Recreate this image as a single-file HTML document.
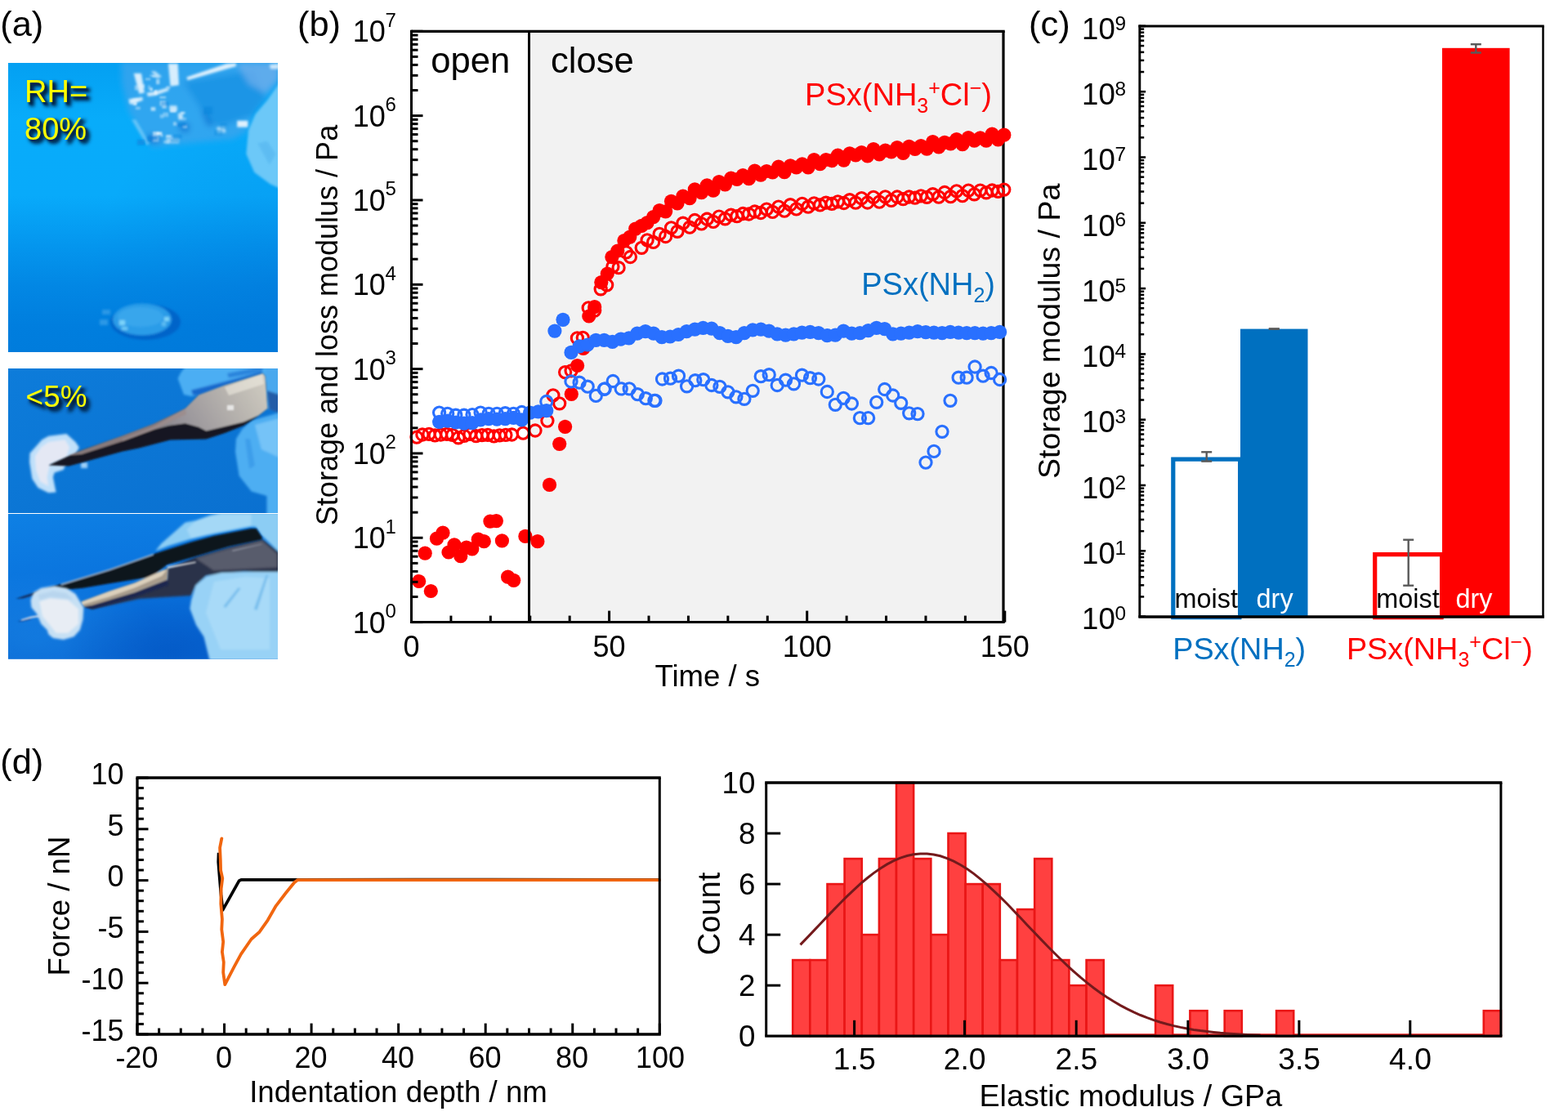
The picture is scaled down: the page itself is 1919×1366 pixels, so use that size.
<!DOCTYPE html>
<html lang="en"><head><meta charset="utf-8"><title>Figure</title>
<style>
html,body{margin:0;padding:0;background:#fff;}
body{width:1919px;height:1366px;overflow:hidden;font-family:'Liberation Sans', sans-serif;}
svg{display:block;}
svg text{font-family:'Liberation Sans', sans-serif;}
</style></head><body>
<svg width="1919" height="1366" viewBox="0 0 1919 1366">
<rect width="1919" height="1366" fill="#fff"/>
<g id="photos">
<text x="0.2" y="44.0" font-size="43.4" fill="#000" text-anchor="start" >(a)</text>
<defs>
<linearGradient id="p1bg" x1="0" y1="0" x2="0" y2="1">
<stop offset="0" stop-color="#04A0F2"/><stop offset="0.2" stop-color="#08ACFA"/><stop offset="0.46" stop-color="#08AAFA"/><stop offset="0.63" stop-color="#0496EE"/><stop offset="0.77" stop-color="#0287E4"/><stop offset="0.91" stop-color="#007EDE"/><stop offset="1" stop-color="#007CDC"/>
</linearGradient>
<radialGradient id="p1dk" cx="1" cy="0.8" r="0.7">
<stop offset="0" stop-color="#006CD2" stop-opacity="0.28"/><stop offset="1" stop-color="#006CD2" stop-opacity="0"/>
</radialGradient>
<linearGradient id="p2bg" x1="0" y1="0" x2="1" y2="1">
<stop offset="0" stop-color="#0D7CDA"/><stop offset="1" stop-color="#0A70D0"/>
</linearGradient>
<linearGradient id="p3bg" x1="0" y1="0" x2="0.25" y2="1">
<stop offset="0" stop-color="#0E80E4"/><stop offset="0.5" stop-color="#0A74DE"/><stop offset="1" stop-color="#0664D2"/>
</linearGradient>
<radialGradient id="p3lt" cx="0.1" cy="0.85" r="0.45">
<stop offset="0" stop-color="#1C88E6" stop-opacity="0.5"/><stop offset="1" stop-color="#2A94EA" stop-opacity="0"/>
</radialGradient>
<radialGradient id="p3dk" cx="0.6" cy="0.95" r="0.4">
<stop offset="0" stop-color="#0458C4" stop-opacity="0.7"/><stop offset="1" stop-color="#0458C4" stop-opacity="0"/>
</radialGradient>
<linearGradient id="metal2" x1="0" y1="0.6" x2="1" y2="0.3">
<stop offset="0" stop-color="#787478"/><stop offset="0.35" stop-color="#98949A"/><stop offset="0.7" stop-color="#B4B0AC"/><stop offset="1" stop-color="#CCC8BE"/>
</linearGradient>
<radialGradient id="blob2" cx="0.45" cy="0.45" r="0.6">
<stop offset="0" stop-color="#EEF3FA"/><stop offset="0.7" stop-color="#D8E6F6"/><stop offset="1" stop-color="#A8CDF0"/>
</radialGradient>
<filter id="bl1" x="-20%" y="-20%" width="140%" height="140%"><feGaussianBlur stdDeviation="4"/></filter>
<filter id="f08" x="-10%" y="-10%" width="120%" height="120%"><feGaussianBlur stdDeviation="0.8"/></filter>
<filter id="f15" x="-10%" y="-10%" width="120%" height="120%"><feGaussianBlur stdDeviation="1.5"/></filter>
<filter id="blS" x="-30%" y="-30%" width="160%" height="160%"><feGaussianBlur stdDeviation="9"/></filter>
<filter id="blA" x="-30%" y="-30%" width="160%" height="160%"><feGaussianBlur stdDeviation="14"/></filter>
<filter id="blB" x="-30%" y="-30%" width="160%" height="160%"><feGaussianBlur stdDeviation="30"/></filter>
<filter id="bl2" x="-20%" y="-20%" width="140%" height="140%"><feGaussianBlur stdDeviation="8"/></filter>
<filter id="bl4" x="-30%" y="-30%" width="160%" height="160%"><feGaussianBlur stdDeviation="14"/></filter>
<filter id="bld" x="-20%" y="-20%" width="140%" height="140%"><feGaussianBlur stdDeviation="1.5"/></filter>
<filter id="tsh" x="-20%" y="-20%" width="150%" height="150%"><feGaussianBlur stdDeviation="2.2"/></filter>
<filter id="tsh2" x="-20%" y="-20%" width="150%" height="150%"><feGaussianBlur stdDeviation="0.9"/></filter>
<clipPath id="c1"><rect x="10" y="77" width="330" height="354"/></clipPath>
<clipPath id="c2"><rect x="10" y="451" width="330" height="177"/></clipPath>
<clipPath id="c3"><rect x="10" y="629.1" width="330" height="177.7"/></clipPath>
</defs>
<g clip-path="url(#c1)">
<rect x="10.00" y="77.00" width="330.00" height="354.00" fill="url(#p1bg)" stroke="none" stroke-width="0" />
<rect x="10.00" y="77.00" width="330.00" height="354.00" fill="url(#p1dk)" stroke="none" stroke-width="0" />
<g transform="translate(140,70) scale(0.13175)">
<g filter="url(#blB)">
<path d="M60,40 L1530,40 L1530,230 L1290,530 L1230,690 L1100,760 L800,790 L520,820 L350,840 L250,700 L130,500 L70,250 Z" fill="#3CA4EC" opacity="0.75"/>
<path d="M640,230 L1300,120 L1400,380 L1280,540 L1000,640 L900,620 L800,480 Z" fill="#1692E4" opacity="0.8"/>
<path d="M1130,50 L1530,50 L1530,200 L1400,330 L1250,250 Z" fill="#6AAEEC" opacity="0.8"/>
<path d="M300,720 L420,720 L430,800 L310,800 Z M600,600 L700,620 L690,700 L610,690 Z M800,480 L860,520 L920,640 L860,640 Z" fill="#0C78D4" opacity="0.8"/>
</g>
<g filter="url(#blA)" fill="#EAF6FE">
<path d="M670,185 L1040,60 L1130,55 L1130,85 L1040,110 L680,215 Z" opacity="0.95"/>
<path d="M500,60 L590,60 L600,260 L520,270 Z" opacity="0.9"/>
<path d="M180,150 L250,150 L280,330 L230,340 Z" opacity="0.9"/>
<path d="M130,390 L260,370 L265,400 L150,440 Z" opacity="0.9"/>
<path d="M300,330 L370,320 L500,280 L505,310 L380,355 L310,365 Z" opacity="0.85"/>
<path d="M340,130 L380,130 L440,180 L400,200 Z" opacity="0.7"/>
<path d="M510,450 L580,450 L585,500 L515,500 Z M590,520 L630,520 L640,580 L595,580 Z" opacity="0.8"/>
<path d="M1140,590 L1240,590 L1240,650 L1140,650 Z" opacity="0.95"/>
<path d="M950,650 L1030,640 L1035,700 L955,705 Z" opacity="0.6"/>
<path d="M480,750 L600,750 L600,800 L480,800 Z" opacity="0.55"/>
<path d="M1440,70 L1530,60 L1530,110 L1450,110 Z" opacity="0.8"/>
<path d="M160,580 L200,580 L330,800 L300,820 Z" opacity="0.35"/>
</g>
<g filter="url(#blS)"><rect x="288" y="194" width="47" height="20" fill="#BDE2FA" opacity="0.59"/><rect x="423" y="718" width="30" height="21" fill="#CFEAFC" opacity="0.54"/><rect x="167" y="383" width="53" height="22" fill="#EAF6FE" opacity="0.45"/><rect x="420" y="364" width="59" height="19" fill="#BDE2FA" opacity="0.74"/><rect x="338" y="463" width="44" height="36" fill="#EAF6FE" opacity="0.66"/><rect x="422" y="531" width="36" height="36" fill="#EAF6FE" opacity="0.38"/><rect x="442" y="433" width="42" height="43" fill="#F6FBFF" opacity="0.56"/><rect x="308" y="261" width="29" height="43" fill="#BDE2FA" opacity="0.39"/><rect x="393" y="694" width="50" height="27" fill="#EAF6FE" opacity="0.79"/><rect x="386" y="204" width="35" height="48" fill="#EAF6FE" opacity="0.54"/><rect x="518" y="485" width="55" height="28" fill="#F6FBFF" opacity="0.66"/><rect x="422" y="405" width="54" height="48" fill="#EAF6FE" opacity="0.56"/><rect x="457" y="775" width="53" height="27" fill="#BDE2FA" opacity="0.52"/><rect x="132" y="409" width="28" height="22" fill="#BDE2FA" opacity="0.38"/><rect x="187" y="261" width="37" height="46" fill="#F6FBFF" opacity="0.39"/><rect x="329" y="282" width="27" height="32" fill="#F6FBFF" opacity="0.60"/><rect x="633" y="561" width="36" height="25" fill="#CFEAFC" opacity="0.39"/><rect x="241" y="251" width="40" height="37" fill="#EAF6FE" opacity="0.47"/><rect x="196" y="459" width="45" height="28" fill="#EAF6FE" opacity="0.41"/><rect x="357" y="691" width="58" height="40" fill="#F6FBFF" opacity="0.60"/><rect x="327" y="161" width="46" height="20" fill="#CFEAFC" opacity="0.38"/><rect x="349" y="166" width="45" height="21" fill="#EAF6FE" opacity="0.61"/><rect x="613" y="513" width="25" height="25" fill="#BDE2FA" opacity="0.52"/><rect x="617" y="506" width="40" height="22" fill="#F6FBFF" opacity="0.57"/><rect x="370" y="305" width="27" height="42" fill="#F6FBFF" opacity="0.68"/><rect x="551" y="201" width="23" height="48" fill="#CFEAFC" opacity="0.59"/><rect x="479" y="721" width="51" height="28" fill="#EAF6FE" opacity="0.64"/><rect x="482" y="270" width="36" height="23" fill="#BDE2FA" opacity="0.70"/><rect x="451" y="513" width="52" height="42" fill="#CFEAFC" opacity="0.44"/><rect x="546" y="601" width="31" height="35" fill="#EAF6FE" opacity="0.51"/><rect x="635" y="635" width="40" height="24" fill="#BDE2FA" opacity="0.62"/><rect x="353" y="737" width="60" height="49" fill="#CFEAFC" opacity="0.51"/><rect x="173" y="414" width="35" height="33" fill="#EAF6FE" opacity="0.79"/><rect x="584" y="613" width="80" height="33" fill="#0C80DA" opacity="0.50"/><rect x="928" y="676" width="78" height="49" fill="#0C80DA" opacity="0.35"/><rect x="831" y="460" width="80" height="69" fill="#0C80DA" opacity="0.42"/><rect x="521" y="754" width="76" height="37" fill="#0C80DA" opacity="0.34"/><rect x="321" y="734" width="80" height="36" fill="#0C80DA" opacity="0.55"/><rect x="984" y="615" width="58" height="52" fill="#0C80DA" opacity="0.34"/><rect x="211" y="766" width="72" height="51" fill="#0C80DA" opacity="0.58"/><rect x="547" y="718" width="81" height="38" fill="#0C80DA" opacity="0.38"/><rect x="434" y="415" width="69" height="40" fill="#0C80DA" opacity="0.43"/><rect x="305" y="737" width="58" height="48" fill="#0C80DA" opacity="0.48"/></g>
<path d="M1540,230 L1420,400 L1310,530 L1245,680 L1225,900 L1300,1070 L1450,1180 L1540,1220 Z" fill="#6CC8F8" filter="url(#blA)"/>
<path d="M1330,800 L1420,780 L1500,900 L1440,1000 Z" fill="#58B8F0" filter="url(#blA)" opacity="0.7"/>
</g>
<g filter="url(#bld)">
<ellipse cx="178" cy="394" rx="43" ry="22" fill="#0058C0" opacity="0.7"/>
<ellipse cx="174" cy="391" rx="36" ry="19.5" fill="#2A9CE8"/>
<ellipse cx="172" cy="388" rx="28" ry="12" fill="#38A6EC"/>
<rect x="125" y="379" width="10" height="6" fill="#2A98E6"/><rect x="122" y="391" width="10" height="7" fill="#2A98E6"/>
<rect x="146" y="392" width="7" height="6" fill="#7CD4FA"/><rect x="149" y="400" width="7" height="4" fill="#6CC8F6"/><rect x="201" y="388" width="6" height="5" fill="#7CD4FA"/><rect x="198" y="394" width="5" height="5" fill="#5CBCF2"/>
</g>
</g>
<g clip-path="url(#c2)">
<rect x="10.00" y="451.00" width="330.00" height="177.00" fill="url(#p2bg)" stroke="none" stroke-width="0" />
<g filter="url(#f15)">
<path d="M217.6,463.3 L221.3,456 L226.7,449 L342,449 L342,505 L327.4,499.9 L324.7,460.6 L321.9,456.9 L275.3,471.5 L243.2,483.4 L234,485 L225,483 Z" fill="#4CAEF3"/>
<path d="M234,477.5 L275.3,467 L320.1,455.1 L321.9,456.9 L275.3,471.5 L243.2,483.4 L236,483.4 Z" fill="#1268CC"/>
<path d="M278,457 L312.8,450 L322,450 L321,455 L279.8,462.5 Z" fill="#2A84DC"/>
<path d="M325,451 L342,451 L342,506 L327.4,499.9 Z" fill="#4AA8EE"/>
<path d="M326.5,478 L342,483 L342,506 L329,500.8 Z" fill="#1C4E9A" opacity="0.85"/>
<path d="M342,505 L307.5,514.8 L296.3,525.5 L289,537 L288,553 L292.7,582.6 L307.7,601.4 L326.5,607 L326.5,630 L342,630 Z" fill="#4EAEF2"/>
<path d="M300,537 L306,537 L312,570 L305,574 Z" fill="#3C9EEA"/>
<path d="M312,520 L342,512 L342,560 L320,550 Z" fill="#86CCFA" opacity="0.7"/>
</g>
<g filter="url(#f15)">
<path d="M59.4,533.7 L81.4,531.0 L92.4,541.1 L96.9,547.5 L92.4,556.6 L83.2,562.1 L77.7,574.9 L66.7,578.6 L64.9,584.1 L68.6,602.4 L59.4,603.3 L46.6,596.9 L39.3,585.9 L36.1,565.8 L36.5,554.8 L44.8,545.6 L51.2,538.3 Z" fill="#BFE0FA"/>
<path d="M59.4,541.1 L79.6,538.3 L85.1,547.5 L81.4,559.4 L61.3,567.6 L57.6,584.1 L59.4,595.1 L49.4,589.6 L43.9,574.9 L42.9,558.4 L50.3,547.5 Z" fill="#E4E8F4"/>
<rect x="99" y="566" width="8" height="7" fill="#9CCFF8"/>
</g>
<g filter="url(#f08)">
<path d="M59.4,569.6 L97.6,551.8 L150.1,533.2 L187.6,519 L226.7,499.9 L243.2,483.4 L275.3,471.5 L321.9,456.9 L324.7,460.6 L327.4,499.9 L316.4,509.1 L298.1,521 L275.3,530.1 L252.4,537.4 L208.3,538.5 L170,548.4 L150.1,552.6 L84.4,570.4 Z" fill="#181822"/>
<path d="M226.7,499.9 L243.2,483.4 L275.3,471.5 L321.9,456.9 L324.7,460.6 L327.4,499.9 L316.4,508.5 L298.1,516.4 L275.3,521.9 L252.4,527.4 L243.2,522.8 L226.7,518.2 L206.6,521 L187.6,526 L150,540 L150.1,537.6 L187.6,522.6 Z" fill="url(#metal2)"/>
<path d="M83,557.5 L150.1,533.2 L187.6,519 L226.7,499.9 L228,507 L187.6,526 L150,540 L100,556 Z" fill="#9C8C8C" opacity="0.85"/>
<path d="M275,474 L321,458 L323,470 L280,484 Z" fill="#F2EEE4" opacity="0.55"/>
<rect x="278" y="496" width="8" height="6" fill="#F4F4F4" opacity="0.8"/>
</g>
</g>
<g clip-path="url(#c3)">
<rect x="10.00" y="629.00" width="330.00" height="178.00" fill="url(#p3bg)" stroke="none" stroke-width="0" />
<rect x="10.00" y="629.00" width="330.00" height="178.00" fill="url(#p3lt)" stroke="none" stroke-width="0" />
<rect x="10.00" y="629.00" width="330.00" height="178.00" fill="url(#p3dk)" stroke="none" stroke-width="0" />
<g filter="url(#f15)">
<path d="M190.1,674.4 L197.5,665.3 L226.7,639.6 L239.6,636.9 L257.9,630.5 L270.7,627.7 L342.1,627.7 L342.1,676.3 L320.1,655.2 L312.8,644.7 L307.3,644.7 L261.5,653.4 L234.1,659.8 L206.6,668.0 Z" fill="#8CCDF4"/>
<path d="M239.6,637.8 L257.9,631.4 L270.7,629.6 L307.3,629.6 L307.3,643.3 L261.5,652.5 L234.1,658.9 L228.6,647.9 Z" fill="#A4D8F6"/>
<path d="M204.3,696 L239.6,681.7 L279.8,669.8 L321,659.8 L342,676.3 L342,701 L298.1,699.6 L252.4,704.6 L239.6,716.5 L233.6,729 L200,731 L170,733 L113,745.5 L102.4,742.5 L164.8,725.3 L204.3,709.8 Z" fill="#2C3248"/>
<path d="M239.6,683.6 L279.8,671.7 L320.1,661.6 L339.3,678.1 L339.3,694.6 L298.1,696.4 L261.5,698.2 Z" fill="#585C6C"/>
<path d="M298.1,700 L270.7,701 L252.4,705.5 L239.6,716.5 L234,734.8 L232.4,745 L240,765 L249.5,779.5 L257,810 L344,810 L344,700 Z" fill="#98D2F6"/>
<path d="M262,712 L300,706 L330,708 L330,795 L270,795 L252,750 Z" fill="#A8DAF8"/>
<path d="M273.4,742.2 L291.7,719.3 L294.5,720.2 L276.2,744.0 Z" fill="#74BCEC"/>
<path d="M310.9,745.8 L325.6,703.7 L328.3,703.7 L314.6,746.7 Z" fill="#74BCEC"/>
</g>
<g filter="url(#f08)">
<path d="M20.6,732.6 L75,714.7 L133.6,697 L187.6,678.2 L234.1,663.4 L261.5,656.1 L307.3,647 L313.7,647 L321,658 L320,660.5 L280,669 L239.6,681 L204.8,691 L185,706 L133.6,714.3 L101.5,719.8 L83,721.6 L50,727 Z" fill="#10121C"/>
<path d="M75,714.2 L133.6,696.4 L187.6,677.6 L187.6,679.6 L133.6,698.6 L75,716.4 Z" fill="#A8C4E4" opacity="0.8"/>
<path d="M102.4,742.5 L164.8,725.3 L204.3,709.8 L206,716 L164.8,731 L113,745.5 Z" fill="#1A2850"/>
<path d="M99.2,736.3 L133.6,723.4 L164.8,713.3 L199.2,697.8 L206,695.5 L205,709.5 L164.8,725.3 L113.2,740.8 L102.4,742.5 Z" fill="#A89C8C"/>
<path d="M99.5,737 L133.6,724 L164.8,714 L199.2,698.5 L204,698 L198,705 L164.8,719.5 L133.6,730.5 L100.5,740.3 Z" fill="#DCD0BC"/>
<path d="M204.8,695.9 L239.6,689.1 L239.6,687.2 L204.8,693.2 Z" fill="#E8E8E8" opacity="0.85"/>
<path d="M284.4,674.9 L320.1,666.6 L320.1,665.7 L284.4,673.5 Z" fill="#A0A4B0" opacity="0.8"/>
<path d="M21.0,761.0 L26.5,759.3 L37.5,756.8 L37.5,758.2 L26.5,760.8 Z" fill="#0C3C8C"/>
<path d="M25.6,758.2 L37.5,754.6 L48.4,752.7 L49.4,755.0 L37.5,756.8 L26.5,759.6 Z" fill="#C4D4EA"/>
<path d="M19.2,733.1 L28.3,729.8 L38.4,726.6 L40.2,728.9 L28.3,732.6 Z" fill="#143266"/>
</g>
<g filter="url(#f15)">
<path d="M37.5,734.4 L41.1,725.3 L50.3,719.8 L66.7,717.0 L81.4,719.8 L92.4,727.1 L97.9,736.3 L102.4,743.6 L101.5,758.2 L97.9,771.0 L90.5,779.3 L77.7,782.9 L64.9,781.1 L59.4,776.5 L57.6,771.0 L50.3,763.7 L44.8,750.9 L38.4,743.6 Z" fill="#C6E0F4"/>
<path d="M48.4,736.3 L61.3,732.6 L83.2,734.4 L96.0,745.4 L96.0,763.7 L83.2,774.7 L68.6,774.7 L61.3,765.5 L52.1,754.6 Z" fill="#E8EDF4"/>
<path d="M46.6,728.0 L64.9,723.4 L81.4,726.2 L90.5,734.4 L79.6,732.6 L61.3,730.8 L48.4,734.4 Z" fill="#B4D2EC" opacity="0.8"/>
</g>
</g>
<text x="34.2" y="129.4" font-size="38" fill="#00264E" stroke="#00264E" stroke-width="2.4" filter="url(#tsh)">RH=</text>
<text x="32.6" y="127.6" font-size="38" fill="#001C3C" filter="url(#tsh2)" opacity="0.9">RH=</text>
<text x="30" y="124.8" font-size="38" fill="#FFFF00">RH=</text>
<text x="34.2" y="175.2" font-size="38" fill="#00264E" stroke="#00264E" stroke-width="2.4" filter="url(#tsh)">80%</text>
<text x="32.6" y="173.4" font-size="38" fill="#001C3C" filter="url(#tsh2)" opacity="0.9">80%</text>
<text x="30" y="170.6" font-size="38" fill="#FFFF00">80%</text>
<text x="35.800000000000004" y="503.0" font-size="36.9" fill="#00264E" stroke="#00264E" stroke-width="2.4" filter="url(#tsh)">&lt;5%</text>
<text x="34.2" y="501.2" font-size="36.9" fill="#001C3C" filter="url(#tsh2)" opacity="0.9">&lt;5%</text>
<text x="31.6" y="498.4" font-size="36.9" fill="#FFFF00">&lt;5%</text>
</g>
<g id="chartb">
<rect x="648.00" y="38.30" width="580.70" height="723.30" fill="#F2F2F2" stroke="none" stroke-width="0" />
<line x1="1228.00" y1="38.30" x2="1228.00" y2="761.60" stroke="#000" stroke-width="3.2" />
<g fill="none" stroke="#FF0000" stroke-width="3.1"><circle cx="510.0" cy="535.1" r="7.1"/><circle cx="516.9" cy="532.0" r="7.1"/><circle cx="525.0" cy="531.4" r="7.1"/><circle cx="532.3" cy="532.9" r="7.1"/><circle cx="539.4" cy="532.0" r="7.1"/><circle cx="546.9" cy="531.4" r="7.1"/><circle cx="553.8" cy="532.4" r="7.1"/><circle cx="561.0" cy="535.8" r="7.1"/><circle cx="568.2" cy="533.3" r="7.1"/><circle cx="575.1" cy="531.4" r="7.1"/><circle cx="582.6" cy="533.6" r="7.1"/><circle cx="589.9" cy="532.6" r="7.1"/><circle cx="597.0" cy="532.4" r="7.1"/><circle cx="604.5" cy="533.9" r="7.1"/><circle cx="611.4" cy="532.9" r="7.1"/><circle cx="618.9" cy="532.4" r="7.1"/><circle cx="626.4" cy="532.0" r="7.1"/><circle cx="640.2" cy="530.1" r="7.1"/><circle cx="655.0" cy="527.0" r="7.1"/><circle cx="669.9" cy="515.1" r="7.1"/><circle cx="676.9" cy="483.8" r="7.1"/><circle cx="684.7" cy="493.8" r="7.1"/><circle cx="691.6" cy="455.6" r="7.1"/><circle cx="699.1" cy="453.8" r="7.1"/><circle cx="706.4" cy="413.9" r="7.1"/><circle cx="713.3" cy="413.3" r="7.1"/><circle cx="720.2" cy="376.9" r="7.1"/><circle cx="727.7" cy="380.1" r="7.1"/><circle cx="735.2" cy="353.8" r="7.1"/><circle cx="742.7" cy="348.8" r="7.1"/><circle cx="749.9" cy="326.4" r="7.1"/><circle cx="757.1" cy="327.7" r="7.1"/><circle cx="771.4" cy="314.5" r="7.1"/><circle cx="766.4" cy="308.9" r="7.1"/><circle cx="785.2" cy="303.3" r="7.1"/><circle cx="792.1" cy="293.9" r="7.1"/><circle cx="799.6" cy="296.4" r="7.1"/><circle cx="807.1" cy="286.4" r="7.1"/><circle cx="814.6" cy="289.5" r="7.1"/><circle cx="821.5" cy="278.9" r="7.1"/><circle cx="829.0" cy="283.3" r="7.1"/><circle cx="835.9" cy="273.2" r="7.1"/><circle cx="844.1" cy="278.2" r="7.1"/><circle cx="850.3" cy="269.5" r="7.1"/><circle cx="858.5" cy="273.9" r="7.1"/><circle cx="865.3" cy="268.2" r="7.1"/><circle cx="872.9" cy="271.4" r="7.1"/><circle cx="880.0" cy="265.1" r="7.1"/><circle cx="887.4" cy="267.8" r="7.1"/><circle cx="894.7" cy="263.2" r="7.1"/><circle cx="901.9" cy="264.6" r="7.1"/><circle cx="909.2" cy="261.5" r="7.1"/><circle cx="916.5" cy="262.0" r="7.1"/><circle cx="923.7" cy="259.0" r="7.1"/><circle cx="931.0" cy="260.5" r="7.1"/><circle cx="938.2" cy="256.1" r="7.1"/><circle cx="945.5" cy="259.4" r="7.1"/><circle cx="952.8" cy="253.1" r="7.1"/><circle cx="960.0" cy="258.1" r="7.1"/><circle cx="967.3" cy="250.7" r="7.1"/><circle cx="974.6" cy="255.9" r="7.1"/><circle cx="981.8" cy="249.3" r="7.1"/><circle cx="989.1" cy="253.2" r="7.1"/><circle cx="996.3" cy="248.8" r="7.1"/><circle cx="1003.6" cy="250.9" r="7.1"/><circle cx="1010.9" cy="248.2" r="7.1"/><circle cx="1018.1" cy="249.3" r="7.1"/><circle cx="1025.4" cy="246.8" r="7.1"/><circle cx="1032.7" cy="248.5" r="7.1"/><circle cx="1039.9" cy="244.7" r="7.1"/><circle cx="1047.2" cy="248.2" r="7.1"/><circle cx="1054.4" cy="242.6" r="7.1"/><circle cx="1061.7" cy="248.0" r="7.1"/><circle cx="1069.0" cy="241.3" r="7.1"/><circle cx="1076.2" cy="247.1" r="7.1"/><circle cx="1083.5" cy="240.9" r="7.1"/><circle cx="1090.8" cy="245.4" r="7.1"/><circle cx="1098.0" cy="241.0" r="7.1"/><circle cx="1105.3" cy="243.7" r="7.1"/><circle cx="1112.6" cy="241.0" r="7.1"/><circle cx="1119.8" cy="242.1" r="7.1"/><circle cx="1127.1" cy="239.8" r="7.1"/><circle cx="1134.3" cy="241.3" r="7.1"/><circle cx="1141.6" cy="237.7" r="7.1"/><circle cx="1148.9" cy="241.1" r="7.1"/><circle cx="1156.1" cy="235.5" r="7.1"/><circle cx="1163.4" cy="240.7" r="7.1"/><circle cx="1170.7" cy="233.8" r="7.1"/><circle cx="1177.9" cy="239.6" r="7.1"/><circle cx="1185.2" cy="233.1" r="7.1"/><circle cx="1192.4" cy="237.8" r="7.1"/><circle cx="1199.7" cy="233.1" r="7.1"/><circle cx="1207.0" cy="235.8" r="7.1"/><circle cx="1214.2" cy="233.0" r="7.1"/><circle cx="1221.5" cy="234.3" r="7.1"/><circle cx="1228.8" cy="232.1" r="7.1"/></g>
<g fill="#FF0000" stroke="none" stroke-width="0"><circle cx="512.7" cy="711.5" r="8.6"/><circle cx="520.2" cy="677.2" r="8.6"/><circle cx="527.3" cy="723.5" r="8.6"/><circle cx="534.5" cy="659.2" r="8.6"/><circle cx="542.0" cy="652.2" r="8.6"/><circle cx="549.0" cy="676.0" r="8.6"/><circle cx="556.0" cy="666.9" r="8.6"/><circle cx="563.8" cy="680.7" r="8.6"/><circle cx="570.8" cy="670.2" r="8.6"/><circle cx="577.8" cy="671.9" r="8.6"/><circle cx="585.3" cy="660.2" r="8.6"/><circle cx="592.3" cy="662.7" r="8.6"/><circle cx="599.9" cy="638.1" r="8.6"/><circle cx="607.4" cy="637.6" r="8.6"/><circle cx="614.4" cy="661.9" r="8.6"/><circle cx="621.6" cy="706.2" r="8.6"/><circle cx="628.7" cy="710.3" r="8.6"/><circle cx="642.9" cy="656.4" r="8.6"/><circle cx="657.9" cy="662.7" r="8.6"/><circle cx="672.5" cy="593.4" r="8.6"/><circle cx="684.7" cy="543.3" r="8.6"/><circle cx="691.6" cy="522.3" r="8.6"/><circle cx="699.3" cy="482.3" r="8.6"/><circle cx="706.6" cy="447.5" r="8.6"/><circle cx="713.9" cy="426.4" r="8.6"/><circle cx="720.8" cy="387.0" r="8.6"/><circle cx="727.7" cy="375.7" r="8.6"/><circle cx="735.8" cy="345.6" r="8.6"/><circle cx="743.3" cy="335.0" r="8.6"/><circle cx="748.9" cy="314.6" r="8.6"/><circle cx="755.8" cy="307.0" r="8.6"/><circle cx="763.9" cy="294.5" r="8.6"/><circle cx="770.8" cy="290.1" r="8.6"/><circle cx="777.7" cy="280.1" r="8.6"/><circle cx="785.2" cy="276.4" r="8.6"/><circle cx="792.1" cy="272.6" r="8.6"/><circle cx="799.6" cy="265.7" r="8.6"/><circle cx="807.1" cy="257.6" r="8.6"/><circle cx="814.6" cy="258.8" r="8.6"/><circle cx="821.5" cy="246.3" r="8.6"/><circle cx="829.0" cy="248.8" r="8.6"/><circle cx="835.9" cy="240.1" r="8.6"/><circle cx="844.1" cy="242.6" r="8.6"/><circle cx="850.3" cy="231.9" r="8.6"/><circle cx="858.5" cy="235.7" r="8.6"/><circle cx="865.3" cy="226.9" r="8.6"/><circle cx="872.9" cy="233.2" r="8.6"/><circle cx="880.0" cy="222.5" r="8.6"/><circle cx="887.4" cy="226.0" r="8.6"/><circle cx="894.7" cy="218.0" r="8.6"/><circle cx="901.9" cy="219.5" r="8.6"/><circle cx="909.2" cy="214.7" r="8.6"/><circle cx="916.5" cy="218.6" r="8.6"/><circle cx="923.7" cy="209.1" r="8.6"/><circle cx="931.0" cy="214.1" r="8.6"/><circle cx="938.2" cy="209.5" r="8.6"/><circle cx="945.5" cy="211.0" r="8.6"/><circle cx="952.8" cy="204.2" r="8.6"/><circle cx="960.0" cy="210.6" r="8.6"/><circle cx="967.3" cy="202.8" r="8.6"/><circle cx="974.6" cy="205.0" r="8.6"/><circle cx="981.8" cy="200.9" r="8.6"/><circle cx="989.1" cy="204.8" r="8.6"/><circle cx="996.3" cy="195.5" r="8.6"/><circle cx="1003.6" cy="200.7" r="8.6"/><circle cx="1010.9" cy="195.5" r="8.6"/><circle cx="1018.1" cy="196.7" r="8.6"/><circle cx="1025.4" cy="190.0" r="8.6"/><circle cx="1032.7" cy="196.1" r="8.6"/><circle cx="1039.9" cy="187.8" r="8.6"/><circle cx="1047.2" cy="190.0" r="8.6"/><circle cx="1054.4" cy="186.6" r="8.6"/><circle cx="1061.7" cy="190.8" r="8.6"/><circle cx="1069.0" cy="182.5" r="8.6"/><circle cx="1076.2" cy="188.8" r="8.6"/><circle cx="1083.5" cy="184.1" r="8.6"/><circle cx="1090.8" cy="186.0" r="8.6"/><circle cx="1098.0" cy="180.5" r="8.6"/><circle cx="1105.3" cy="187.5" r="8.6"/><circle cx="1112.6" cy="179.3" r="8.6"/><circle cx="1119.8" cy="182.3" r="8.6"/><circle cx="1127.1" cy="178.6" r="8.6"/><circle cx="1134.3" cy="182.1" r="8.6"/><circle cx="1141.6" cy="173.7" r="8.6"/><circle cx="1148.9" cy="179.8" r="8.6"/><circle cx="1156.1" cy="174.4" r="8.6"/><circle cx="1163.4" cy="175.9" r="8.6"/><circle cx="1170.7" cy="170.5" r="8.6"/><circle cx="1177.9" cy="176.7" r="8.6"/><circle cx="1185.2" cy="168.5" r="8.6"/><circle cx="1192.4" cy="172.2" r="8.6"/><circle cx="1199.7" cy="168.8" r="8.6"/><circle cx="1207.0" cy="172.1" r="8.6"/><circle cx="1214.2" cy="164.1" r="8.6"/><circle cx="1221.5" cy="170.8" r="8.6"/><circle cx="1228.8" cy="165.2" r="8.6"/></g>
<g fill="none" stroke="#2970FF" stroke-width="3.1"><circle cx="537.6" cy="505.1" r="7.1"/><circle cx="547.7" cy="506.3" r="7.1"/><circle cx="557.8" cy="508.2" r="7.1"/><circle cx="567.9" cy="508.2" r="7.1"/><circle cx="578.0" cy="507.6" r="7.1"/><circle cx="588.1" cy="505.1" r="7.1"/><circle cx="598.1" cy="506.3" r="7.1"/><circle cx="608.2" cy="506.3" r="7.1"/><circle cx="618.3" cy="505.7" r="7.1"/><circle cx="628.4" cy="506.3" r="7.1"/><circle cx="638.5" cy="504.5" r="7.1"/><circle cx="668.8" cy="491.5" r="7.1"/><circle cx="699.0" cy="466.9" r="7.1"/><circle cx="709.1" cy="468.2" r="7.1"/><circle cx="719.2" cy="473.2" r="7.1"/><circle cx="729.3" cy="484.4" r="7.1"/><circle cx="739.4" cy="476.3" r="7.1"/><circle cx="740.2" cy="475.9" r="7.1"/><circle cx="750.2" cy="466.5" r="7.1"/><circle cx="760.2" cy="475.9" r="7.1"/><circle cx="770.2" cy="475.9" r="7.1"/><circle cx="780.3" cy="482.7" r="7.1"/><circle cx="790.3" cy="487.7" r="7.1"/><circle cx="800.9" cy="490.3" r="7.1"/><circle cx="802.0" cy="490.3" r="7.1"/><circle cx="810.5" cy="464.0" r="7.1"/><circle cx="820.5" cy="463.2" r="7.1"/><circle cx="830.5" cy="460.2" r="7.1"/><circle cx="840.6" cy="472.8" r="7.1"/><circle cx="850.8" cy="465.7" r="7.1"/><circle cx="860.8" cy="464.7" r="7.1"/><circle cx="870.9" cy="471.5" r="7.1"/><circle cx="880.9" cy="473.3" r="7.1"/><circle cx="890.9" cy="479.8" r="7.1"/><circle cx="900.9" cy="485.8" r="7.1"/><circle cx="910.9" cy="488.3" r="7.1"/><circle cx="921.2" cy="478.3" r="7.1"/><circle cx="931.2" cy="460.7" r="7.1"/><circle cx="941.2" cy="458.7" r="7.1"/><circle cx="951.2" cy="471.5" r="7.1"/><circle cx="961.5" cy="465.2" r="7.1"/><circle cx="971.5" cy="469.8" r="7.1"/><circle cx="981.5" cy="459.2" r="7.1"/><circle cx="991.5" cy="462.7" r="7.1"/><circle cx="1001.8" cy="464.0" r="7.1"/><circle cx="1012.3" cy="479.5" r="7.1"/><circle cx="1022.3" cy="495.3" r="7.1"/><circle cx="1032.3" cy="487.3" r="7.1"/><circle cx="1042.4" cy="494.0" r="7.1"/><circle cx="1052.4" cy="511.6" r="7.1"/><circle cx="1062.6" cy="511.6" r="7.1"/><circle cx="1072.7" cy="492.3" r="7.1"/><circle cx="1082.7" cy="476.5" r="7.1"/><circle cx="1092.7" cy="484.0" r="7.1"/><circle cx="1102.7" cy="493.3" r="7.1"/><circle cx="1112.7" cy="505.8" r="7.1"/><circle cx="1123.0" cy="506.6" r="7.1"/><circle cx="1133.0" cy="566.1" r="7.1"/><circle cx="1143.0" cy="552.4" r="7.1"/><circle cx="1153.0" cy="528.3" r="7.1"/><circle cx="1163.0" cy="490.3" r="7.1"/><circle cx="1173.1" cy="462.2" r="7.1"/><circle cx="1183.1" cy="462.2" r="7.1"/><circle cx="1193.1" cy="449.0" r="7.1"/><circle cx="1203.1" cy="460.2" r="7.1"/><circle cx="1213.1" cy="456.5" r="7.1"/><circle cx="1223.6" cy="464.5" r="7.1"/></g>
<g fill="#2970FF" stroke="none" stroke-width="0"><circle cx="537.6" cy="516.4" r="8.6"/><circle cx="547.7" cy="515.1" r="8.6"/><circle cx="557.8" cy="517.0" r="8.6"/><circle cx="567.9" cy="518.2" r="8.6"/><circle cx="578.0" cy="517.6" r="8.6"/><circle cx="588.1" cy="513.9" r="8.6"/><circle cx="598.1" cy="512.6" r="8.6"/><circle cx="608.2" cy="513.2" r="8.6"/><circle cx="618.3" cy="512.6" r="8.6"/><circle cx="628.4" cy="511.4" r="8.6"/><circle cx="638.5" cy="513.9" r="8.6"/><circle cx="648.6" cy="505.1" r="8.6"/><circle cx="658.7" cy="503.8" r="8.6"/><circle cx="668.8" cy="502.6" r="8.6"/><circle cx="678.9" cy="405.1" r="8.6"/><circle cx="689.0" cy="391.3" r="8.6"/><circle cx="699.0" cy="431.4" r="8.6"/><circle cx="709.1" cy="423.9" r="8.6"/><circle cx="719.2" cy="422.0" r="8.6"/><circle cx="729.3" cy="416.4" r="8.6"/><circle cx="739.4" cy="416.4" r="8.6"/><circle cx="749.5" cy="418.3" r="8.6"/><circle cx="759.6" cy="415.1" r="8.6"/><circle cx="769.7" cy="413.9" r="8.6"/><circle cx="779.8" cy="408.2" r="8.6"/><circle cx="789.9" cy="405.7" r="8.6"/><circle cx="799.9" cy="408.2" r="8.6"/><circle cx="810.0" cy="412.6" r="8.6"/><circle cx="820.1" cy="412.0" r="8.6"/><circle cx="830.2" cy="409.5" r="8.6"/><circle cx="840.3" cy="405.7" r="8.6"/><circle cx="850.4" cy="403.2" r="8.6"/><circle cx="860.5" cy="401.4" r="8.6"/><circle cx="870.9" cy="402.2" r="8.6"/><circle cx="880.9" cy="407.7" r="8.6"/><circle cx="890.9" cy="411.4" r="8.6"/><circle cx="900.9" cy="412.7" r="8.6"/><circle cx="910.9" cy="407.7" r="8.6"/><circle cx="921.2" cy="403.9" r="8.6"/><circle cx="931.2" cy="403.2" r="8.6"/><circle cx="941.2" cy="405.2" r="8.6"/><circle cx="951.2" cy="408.9" r="8.6"/><circle cx="961.5" cy="410.2" r="8.6"/><circle cx="971.5" cy="408.9" r="8.6"/><circle cx="981.5" cy="407.2" r="8.6"/><circle cx="991.5" cy="406.4" r="8.6"/><circle cx="1001.8" cy="407.7" r="8.6"/><circle cx="1012.3" cy="410.7" r="8.6"/><circle cx="1022.3" cy="410.2" r="8.6"/><circle cx="1032.3" cy="405.2" r="8.6"/><circle cx="1042.4" cy="408.2" r="8.6"/><circle cx="1052.4" cy="407.7" r="8.6"/><circle cx="1062.6" cy="404.7" r="8.6"/><circle cx="1072.7" cy="401.4" r="8.6"/><circle cx="1082.7" cy="402.7" r="8.6"/><circle cx="1092.7" cy="408.9" r="8.6"/><circle cx="1102.7" cy="408.2" r="8.6"/><circle cx="1112.7" cy="407.2" r="8.6"/><circle cx="1123.0" cy="405.7" r="8.6"/><circle cx="1133.0" cy="406.7" r="8.6"/><circle cx="1143.0" cy="407.2" r="8.6"/><circle cx="1153.0" cy="407.7" r="8.6"/><circle cx="1163.0" cy="406.4" r="8.6"/><circle cx="1173.1" cy="407.2" r="8.6"/><circle cx="1183.1" cy="407.7" r="8.6"/><circle cx="1193.1" cy="407.7" r="8.6"/><circle cx="1203.1" cy="408.2" r="8.6"/><circle cx="1213.1" cy="407.7" r="8.6"/><circle cx="1223.6" cy="406.4" r="8.6"/></g>
<line x1="647.50" y1="38.30" x2="647.50" y2="761.60" stroke="#000" stroke-width="3" />
<line x1="503.50" y1="36.80" x2="503.50" y2="763.10" stroke="#000" stroke-width="3" />
<line x1="503.50" y1="761.60" x2="1229.70" y2="761.60" stroke="#000" stroke-width="3" />
<line x1="503.50" y1="38.30" x2="1229.70" y2="38.30" stroke="#000" stroke-width="3.3" />
<line x1="503.50" y1="761.60" x2="517.50" y2="761.60" stroke="#000" stroke-width="3" />
<line x1="503.50" y1="730.50" x2="511.50" y2="730.50" stroke="#000" stroke-width="3" />
<line x1="503.50" y1="712.30" x2="511.50" y2="712.30" stroke="#000" stroke-width="3" />
<line x1="503.50" y1="699.39" x2="511.50" y2="699.39" stroke="#000" stroke-width="3" />
<line x1="503.50" y1="689.38" x2="511.50" y2="689.38" stroke="#000" stroke-width="3" />
<line x1="503.50" y1="681.19" x2="511.50" y2="681.19" stroke="#000" stroke-width="3" />
<line x1="503.50" y1="674.28" x2="511.50" y2="674.28" stroke="#000" stroke-width="3" />
<line x1="503.50" y1="668.29" x2="511.50" y2="668.29" stroke="#000" stroke-width="3" />
<line x1="503.50" y1="663.00" x2="511.50" y2="663.00" stroke="#000" stroke-width="3" />
<text x="471.8" y="774.6" font-size="36" text-anchor="end">10</text><text x="471.6" y="756.0" font-size="24">0</text>
<line x1="503.50" y1="658.27" x2="517.50" y2="658.27" stroke="#000" stroke-width="3" />
<line x1="503.50" y1="627.17" x2="511.50" y2="627.17" stroke="#000" stroke-width="3" />
<line x1="503.50" y1="608.97" x2="511.50" y2="608.97" stroke="#000" stroke-width="3" />
<line x1="503.50" y1="596.06" x2="511.50" y2="596.06" stroke="#000" stroke-width="3" />
<line x1="503.50" y1="586.05" x2="511.50" y2="586.05" stroke="#000" stroke-width="3" />
<line x1="503.50" y1="577.87" x2="511.50" y2="577.87" stroke="#000" stroke-width="3" />
<line x1="503.50" y1="570.95" x2="511.50" y2="570.95" stroke="#000" stroke-width="3" />
<line x1="503.50" y1="564.96" x2="511.50" y2="564.96" stroke="#000" stroke-width="3" />
<line x1="503.50" y1="559.67" x2="511.50" y2="559.67" stroke="#000" stroke-width="3" />
<text x="471.8" y="671.3" font-size="36" text-anchor="end">10</text><text x="471.6" y="652.7" font-size="24">1</text>
<line x1="503.50" y1="554.94" x2="517.50" y2="554.94" stroke="#000" stroke-width="3" />
<line x1="503.50" y1="523.84" x2="511.50" y2="523.84" stroke="#000" stroke-width="3" />
<line x1="503.50" y1="505.64" x2="511.50" y2="505.64" stroke="#000" stroke-width="3" />
<line x1="503.50" y1="492.73" x2="511.50" y2="492.73" stroke="#000" stroke-width="3" />
<line x1="503.50" y1="482.72" x2="511.50" y2="482.72" stroke="#000" stroke-width="3" />
<line x1="503.50" y1="474.54" x2="511.50" y2="474.54" stroke="#000" stroke-width="3" />
<line x1="503.50" y1="467.62" x2="511.50" y2="467.62" stroke="#000" stroke-width="3" />
<line x1="503.50" y1="461.63" x2="511.50" y2="461.63" stroke="#000" stroke-width="3" />
<line x1="503.50" y1="456.34" x2="511.50" y2="456.34" stroke="#000" stroke-width="3" />
<text x="471.8" y="567.9" font-size="36" text-anchor="end">10</text><text x="471.6" y="549.3" font-size="24">2</text>
<line x1="503.50" y1="451.61" x2="517.50" y2="451.61" stroke="#000" stroke-width="3" />
<line x1="503.50" y1="420.51" x2="511.50" y2="420.51" stroke="#000" stroke-width="3" />
<line x1="503.50" y1="402.31" x2="511.50" y2="402.31" stroke="#000" stroke-width="3" />
<line x1="503.50" y1="389.40" x2="511.50" y2="389.40" stroke="#000" stroke-width="3" />
<line x1="503.50" y1="379.39" x2="511.50" y2="379.39" stroke="#000" stroke-width="3" />
<line x1="503.50" y1="371.21" x2="511.50" y2="371.21" stroke="#000" stroke-width="3" />
<line x1="503.50" y1="364.29" x2="511.50" y2="364.29" stroke="#000" stroke-width="3" />
<line x1="503.50" y1="358.30" x2="511.50" y2="358.30" stroke="#000" stroke-width="3" />
<line x1="503.50" y1="353.01" x2="511.50" y2="353.01" stroke="#000" stroke-width="3" />
<text x="471.8" y="464.6" font-size="36" text-anchor="end">10</text><text x="471.6" y="446.0" font-size="24">3</text>
<line x1="503.50" y1="348.29" x2="517.50" y2="348.29" stroke="#000" stroke-width="3" />
<line x1="503.50" y1="317.18" x2="511.50" y2="317.18" stroke="#000" stroke-width="3" />
<line x1="503.50" y1="298.99" x2="511.50" y2="298.99" stroke="#000" stroke-width="3" />
<line x1="503.50" y1="286.08" x2="511.50" y2="286.08" stroke="#000" stroke-width="3" />
<line x1="503.50" y1="276.06" x2="511.50" y2="276.06" stroke="#000" stroke-width="3" />
<line x1="503.50" y1="267.88" x2="511.50" y2="267.88" stroke="#000" stroke-width="3" />
<line x1="503.50" y1="260.96" x2="511.50" y2="260.96" stroke="#000" stroke-width="3" />
<line x1="503.50" y1="254.97" x2="511.50" y2="254.97" stroke="#000" stroke-width="3" />
<line x1="503.50" y1="249.69" x2="511.50" y2="249.69" stroke="#000" stroke-width="3" />
<text x="471.8" y="361.3" font-size="36" text-anchor="end">10</text><text x="471.6" y="342.7" font-size="24">4</text>
<line x1="503.50" y1="244.96" x2="517.50" y2="244.96" stroke="#000" stroke-width="3" />
<line x1="503.50" y1="213.85" x2="511.50" y2="213.85" stroke="#000" stroke-width="3" />
<line x1="503.50" y1="195.66" x2="511.50" y2="195.66" stroke="#000" stroke-width="3" />
<line x1="503.50" y1="182.75" x2="511.50" y2="182.75" stroke="#000" stroke-width="3" />
<line x1="503.50" y1="172.73" x2="511.50" y2="172.73" stroke="#000" stroke-width="3" />
<line x1="503.50" y1="164.55" x2="511.50" y2="164.55" stroke="#000" stroke-width="3" />
<line x1="503.50" y1="157.63" x2="511.50" y2="157.63" stroke="#000" stroke-width="3" />
<line x1="503.50" y1="151.64" x2="511.50" y2="151.64" stroke="#000" stroke-width="3" />
<line x1="503.50" y1="146.36" x2="511.50" y2="146.36" stroke="#000" stroke-width="3" />
<text x="471.8" y="258.0" font-size="36" text-anchor="end">10</text><text x="471.6" y="239.4" font-size="24">5</text>
<line x1="503.50" y1="141.63" x2="517.50" y2="141.63" stroke="#000" stroke-width="3" />
<line x1="503.50" y1="110.52" x2="511.50" y2="110.52" stroke="#000" stroke-width="3" />
<line x1="503.50" y1="92.33" x2="511.50" y2="92.33" stroke="#000" stroke-width="3" />
<line x1="503.50" y1="79.42" x2="511.50" y2="79.42" stroke="#000" stroke-width="3" />
<line x1="503.50" y1="69.40" x2="511.50" y2="69.40" stroke="#000" stroke-width="3" />
<line x1="503.50" y1="61.22" x2="511.50" y2="61.22" stroke="#000" stroke-width="3" />
<line x1="503.50" y1="54.31" x2="511.50" y2="54.31" stroke="#000" stroke-width="3" />
<line x1="503.50" y1="48.31" x2="511.50" y2="48.31" stroke="#000" stroke-width="3" />
<line x1="503.50" y1="43.03" x2="511.50" y2="43.03" stroke="#000" stroke-width="3" />
<text x="471.8" y="154.6" font-size="36" text-anchor="end">10</text><text x="471.6" y="136.0" font-size="24">6</text>
<line x1="503.50" y1="38.30" x2="517.50" y2="38.30" stroke="#000" stroke-width="3" />
<text x="471.8" y="51.3" font-size="36" text-anchor="end">10</text><text x="471.6" y="32.7" font-size="24">7</text>
<line x1="503.50" y1="761.60" x2="503.50" y2="747.60" stroke="#000" stroke-width="3" />
<text x="503.5" y="804.2" font-size="36" fill="#000" text-anchor="middle" >0</text>
<line x1="551.92" y1="761.60" x2="551.92" y2="753.60" stroke="#000" stroke-width="3" />
<line x1="600.34" y1="761.60" x2="600.34" y2="753.60" stroke="#000" stroke-width="3" />
<line x1="648.76" y1="761.60" x2="648.76" y2="753.60" stroke="#000" stroke-width="3" />
<line x1="697.18" y1="761.60" x2="697.18" y2="753.60" stroke="#000" stroke-width="3" />
<line x1="745.60" y1="761.60" x2="745.60" y2="747.60" stroke="#000" stroke-width="3" />
<text x="745.6" y="804.2" font-size="36" fill="#000" text-anchor="middle" >50</text>
<line x1="794.02" y1="761.60" x2="794.02" y2="753.60" stroke="#000" stroke-width="3" />
<line x1="842.44" y1="761.60" x2="842.44" y2="753.60" stroke="#000" stroke-width="3" />
<line x1="890.86" y1="761.60" x2="890.86" y2="753.60" stroke="#000" stroke-width="3" />
<line x1="939.28" y1="761.60" x2="939.28" y2="753.60" stroke="#000" stroke-width="3" />
<line x1="987.70" y1="761.60" x2="987.70" y2="747.60" stroke="#000" stroke-width="3" />
<text x="987.7" y="804.2" font-size="36" fill="#000" text-anchor="middle" >100</text>
<line x1="1036.12" y1="761.60" x2="1036.12" y2="753.60" stroke="#000" stroke-width="3" />
<line x1="1084.54" y1="761.60" x2="1084.54" y2="753.60" stroke="#000" stroke-width="3" />
<line x1="1132.96" y1="761.60" x2="1132.96" y2="753.60" stroke="#000" stroke-width="3" />
<line x1="1181.38" y1="761.60" x2="1181.38" y2="753.60" stroke="#000" stroke-width="3" />
<line x1="1229.80" y1="761.60" x2="1229.80" y2="747.60" stroke="#000" stroke-width="3" />
<text x="1229.8" y="804.2" font-size="36" fill="#000" text-anchor="middle" >150</text>
<text x="865.8" y="839.8" font-size="36.6" fill="#000" text-anchor="middle" >Time / s</text>
<text transform="translate(413.3,398) rotate(-90)" font-size="36" text-anchor="middle">Storage and loss modulus / Pa</text>
<text x="527.3" y="89.2" font-size="43.6" fill="#000" text-anchor="start" >open</text>
<text x="674.0" y="89.2" font-size="43.6" fill="#000" text-anchor="start" >close</text>
<text x="1214" y="129" font-size="38" fill="#FF0000" text-anchor="end">PSx(NH<tspan font-size="25" dy="9">3</tspan><tspan font-size="25" dy="-22">+</tspan><tspan dy="13">Cl</tspan><tspan font-size="25" dy="-13">−</tspan><tspan dy="13">)</tspan></text>
<text x="1218" y="361" font-size="38" fill="#0070C0" text-anchor="end">PSx(NH<tspan font-size="25" dy="9">2</tspan><tspan dy="-9">)</tspan></text>
<text x="364.0" y="44.3" font-size="43.4" fill="#000" text-anchor="start" >(b)</text>
</g>
<g id="chartc">
<path d="M1517.6,755.6 V562.2 H1435.8 V755.6 H1519.5" fill="none" stroke="#0070C0" stroke-width="5.2"/>
<path d="M1764.6,755.6 V678.6 H1682.7 V755.6 H1766.7" fill="none" stroke="#FF0000" stroke-width="5.2"/>
<rect x="1518.00" y="402.60" width="82.50" height="352.00" fill="#0070C0" stroke="none" stroke-width="0" />
<rect x="1765.00" y="58.80" width="82.60" height="695.80" fill="#FF0000" stroke="none" stroke-width="0" />
<line x1="1393.40" y1="755.00" x2="1889.90" y2="755.00" stroke="#000" stroke-width="3.6" />
<line x1="1394.80" y1="30.50" x2="1394.80" y2="756.00" stroke="#000" stroke-width="2.9" />
<line x1="1393.40" y1="31.90" x2="1889.75" y2="31.90" stroke="#000" stroke-width="3.0" />
<line x1="1888.50" y1="31.90" x2="1888.50" y2="754.60" stroke="#000" stroke-width="2.5" />
<line x1="1806.30" y1="54.20" x2="1806.30" y2="64.50" stroke="#595959" stroke-width="2.4" />
<line x1="1799.80" y1="54.20" x2="1812.80" y2="54.20" stroke="#595959" stroke-width="2.4" />
<line x1="1799.80" y1="64.50" x2="1812.80" y2="64.50" stroke="#595959" stroke-width="2.4" />
<line x1="1559.30" y1="402.60" x2="1559.30" y2="402.60" stroke="#595959" stroke-width="2.4" />
<line x1="1552.80" y1="402.60" x2="1565.80" y2="402.60" stroke="#595959" stroke-width="2.4" />
<line x1="1552.80" y1="402.60" x2="1565.80" y2="402.60" stroke="#595959" stroke-width="2.4" />
<line x1="1476.70" y1="553.30" x2="1476.70" y2="564.60" stroke="#595959" stroke-width="2.4" />
<line x1="1470.20" y1="553.30" x2="1483.20" y2="553.30" stroke="#595959" stroke-width="2.4" />
<line x1="1470.20" y1="564.60" x2="1483.20" y2="564.60" stroke="#595959" stroke-width="2.4" />
<line x1="1723.70" y1="660.70" x2="1723.70" y2="716.70" stroke="#595959" stroke-width="2.4" />
<line x1="1717.20" y1="660.70" x2="1730.20" y2="660.70" stroke="#595959" stroke-width="2.4" />
<line x1="1717.20" y1="716.70" x2="1730.20" y2="716.70" stroke="#595959" stroke-width="2.4" />
<line x1="1394.80" y1="754.60" x2="1402.10" y2="754.60" stroke="#000" stroke-width="2.6" />
<line x1="1394.80" y1="730.43" x2="1400.20" y2="730.43" stroke="#000" stroke-width="2.5" />
<line x1="1394.80" y1="716.29" x2="1400.20" y2="716.29" stroke="#000" stroke-width="2.5" />
<line x1="1394.80" y1="706.25" x2="1400.20" y2="706.25" stroke="#000" stroke-width="2.5" />
<line x1="1394.80" y1="698.47" x2="1400.20" y2="698.47" stroke="#000" stroke-width="2.5" />
<line x1="1394.80" y1="692.11" x2="1400.20" y2="692.11" stroke="#000" stroke-width="2.5" />
<line x1="1394.80" y1="686.74" x2="1400.20" y2="686.74" stroke="#000" stroke-width="2.5" />
<line x1="1394.80" y1="682.08" x2="1400.20" y2="682.08" stroke="#000" stroke-width="2.5" />
<line x1="1394.80" y1="677.97" x2="1400.20" y2="677.97" stroke="#000" stroke-width="2.5" />
<text x="1364.8" y="770.3" font-size="36.6" text-anchor="end">10</text><text x="1364.6" y="759.2" font-size="24.4">0</text>
<line x1="1394.80" y1="674.30" x2="1402.10" y2="674.30" stroke="#000" stroke-width="2.6" />
<line x1="1394.80" y1="650.13" x2="1400.20" y2="650.13" stroke="#000" stroke-width="2.5" />
<line x1="1394.80" y1="635.99" x2="1400.20" y2="635.99" stroke="#000" stroke-width="2.5" />
<line x1="1394.80" y1="625.95" x2="1400.20" y2="625.95" stroke="#000" stroke-width="2.5" />
<line x1="1394.80" y1="618.17" x2="1400.20" y2="618.17" stroke="#000" stroke-width="2.5" />
<line x1="1394.80" y1="611.81" x2="1400.20" y2="611.81" stroke="#000" stroke-width="2.5" />
<line x1="1394.80" y1="606.44" x2="1400.20" y2="606.44" stroke="#000" stroke-width="2.5" />
<line x1="1394.80" y1="601.78" x2="1400.20" y2="601.78" stroke="#000" stroke-width="2.5" />
<line x1="1394.80" y1="597.67" x2="1400.20" y2="597.67" stroke="#000" stroke-width="2.5" />
<text x="1364.8" y="690.0" font-size="36.6" text-anchor="end">10</text><text x="1364.6" y="678.9" font-size="24.4">1</text>
<line x1="1394.80" y1="594.00" x2="1402.10" y2="594.00" stroke="#000" stroke-width="2.6" />
<line x1="1394.80" y1="569.83" x2="1400.20" y2="569.83" stroke="#000" stroke-width="2.5" />
<line x1="1394.80" y1="555.69" x2="1400.20" y2="555.69" stroke="#000" stroke-width="2.5" />
<line x1="1394.80" y1="545.65" x2="1400.20" y2="545.65" stroke="#000" stroke-width="2.5" />
<line x1="1394.80" y1="537.87" x2="1400.20" y2="537.87" stroke="#000" stroke-width="2.5" />
<line x1="1394.80" y1="531.51" x2="1400.20" y2="531.51" stroke="#000" stroke-width="2.5" />
<line x1="1394.80" y1="526.14" x2="1400.20" y2="526.14" stroke="#000" stroke-width="2.5" />
<line x1="1394.80" y1="521.48" x2="1400.20" y2="521.48" stroke="#000" stroke-width="2.5" />
<line x1="1394.80" y1="517.37" x2="1400.20" y2="517.37" stroke="#000" stroke-width="2.5" />
<text x="1364.8" y="609.7" font-size="36.6" text-anchor="end">10</text><text x="1364.6" y="598.6" font-size="24.4">2</text>
<line x1="1394.80" y1="513.70" x2="1402.10" y2="513.70" stroke="#000" stroke-width="2.6" />
<line x1="1394.80" y1="489.53" x2="1400.20" y2="489.53" stroke="#000" stroke-width="2.5" />
<line x1="1394.80" y1="475.39" x2="1400.20" y2="475.39" stroke="#000" stroke-width="2.5" />
<line x1="1394.80" y1="465.35" x2="1400.20" y2="465.35" stroke="#000" stroke-width="2.5" />
<line x1="1394.80" y1="457.57" x2="1400.20" y2="457.57" stroke="#000" stroke-width="2.5" />
<line x1="1394.80" y1="451.21" x2="1400.20" y2="451.21" stroke="#000" stroke-width="2.5" />
<line x1="1394.80" y1="445.84" x2="1400.20" y2="445.84" stroke="#000" stroke-width="2.5" />
<line x1="1394.80" y1="441.18" x2="1400.20" y2="441.18" stroke="#000" stroke-width="2.5" />
<line x1="1394.80" y1="437.07" x2="1400.20" y2="437.07" stroke="#000" stroke-width="2.5" />
<text x="1364.8" y="529.4" font-size="36.6" text-anchor="end">10</text><text x="1364.6" y="518.3" font-size="24.4">3</text>
<line x1="1394.80" y1="433.40" x2="1402.10" y2="433.40" stroke="#000" stroke-width="2.6" />
<line x1="1394.80" y1="409.23" x2="1400.20" y2="409.23" stroke="#000" stroke-width="2.5" />
<line x1="1394.80" y1="395.09" x2="1400.20" y2="395.09" stroke="#000" stroke-width="2.5" />
<line x1="1394.80" y1="385.05" x2="1400.20" y2="385.05" stroke="#000" stroke-width="2.5" />
<line x1="1394.80" y1="377.27" x2="1400.20" y2="377.27" stroke="#000" stroke-width="2.5" />
<line x1="1394.80" y1="370.91" x2="1400.20" y2="370.91" stroke="#000" stroke-width="2.5" />
<line x1="1394.80" y1="365.54" x2="1400.20" y2="365.54" stroke="#000" stroke-width="2.5" />
<line x1="1394.80" y1="360.88" x2="1400.20" y2="360.88" stroke="#000" stroke-width="2.5" />
<line x1="1394.80" y1="356.77" x2="1400.20" y2="356.77" stroke="#000" stroke-width="2.5" />
<text x="1364.8" y="449.1" font-size="36.6" text-anchor="end">10</text><text x="1364.6" y="438.0" font-size="24.4">4</text>
<line x1="1394.80" y1="353.10" x2="1402.10" y2="353.10" stroke="#000" stroke-width="2.6" />
<line x1="1394.80" y1="328.93" x2="1400.20" y2="328.93" stroke="#000" stroke-width="2.5" />
<line x1="1394.80" y1="314.79" x2="1400.20" y2="314.79" stroke="#000" stroke-width="2.5" />
<line x1="1394.80" y1="304.75" x2="1400.20" y2="304.75" stroke="#000" stroke-width="2.5" />
<line x1="1394.80" y1="296.97" x2="1400.20" y2="296.97" stroke="#000" stroke-width="2.5" />
<line x1="1394.80" y1="290.61" x2="1400.20" y2="290.61" stroke="#000" stroke-width="2.5" />
<line x1="1394.80" y1="285.24" x2="1400.20" y2="285.24" stroke="#000" stroke-width="2.5" />
<line x1="1394.80" y1="280.58" x2="1400.20" y2="280.58" stroke="#000" stroke-width="2.5" />
<line x1="1394.80" y1="276.47" x2="1400.20" y2="276.47" stroke="#000" stroke-width="2.5" />
<text x="1364.8" y="368.8" font-size="36.6" text-anchor="end">10</text><text x="1364.6" y="357.7" font-size="24.4">5</text>
<line x1="1394.80" y1="272.80" x2="1402.10" y2="272.80" stroke="#000" stroke-width="2.6" />
<line x1="1394.80" y1="248.63" x2="1400.20" y2="248.63" stroke="#000" stroke-width="2.5" />
<line x1="1394.80" y1="234.49" x2="1400.20" y2="234.49" stroke="#000" stroke-width="2.5" />
<line x1="1394.80" y1="224.45" x2="1400.20" y2="224.45" stroke="#000" stroke-width="2.5" />
<line x1="1394.80" y1="216.67" x2="1400.20" y2="216.67" stroke="#000" stroke-width="2.5" />
<line x1="1394.80" y1="210.31" x2="1400.20" y2="210.31" stroke="#000" stroke-width="2.5" />
<line x1="1394.80" y1="204.94" x2="1400.20" y2="204.94" stroke="#000" stroke-width="2.5" />
<line x1="1394.80" y1="200.28" x2="1400.20" y2="200.28" stroke="#000" stroke-width="2.5" />
<line x1="1394.80" y1="196.17" x2="1400.20" y2="196.17" stroke="#000" stroke-width="2.5" />
<text x="1364.8" y="288.5" font-size="36.6" text-anchor="end">10</text><text x="1364.6" y="277.4" font-size="24.4">6</text>
<line x1="1394.80" y1="192.50" x2="1402.10" y2="192.50" stroke="#000" stroke-width="2.6" />
<line x1="1394.80" y1="168.33" x2="1400.20" y2="168.33" stroke="#000" stroke-width="2.5" />
<line x1="1394.80" y1="154.19" x2="1400.20" y2="154.19" stroke="#000" stroke-width="2.5" />
<line x1="1394.80" y1="144.15" x2="1400.20" y2="144.15" stroke="#000" stroke-width="2.5" />
<line x1="1394.80" y1="136.37" x2="1400.20" y2="136.37" stroke="#000" stroke-width="2.5" />
<line x1="1394.80" y1="130.01" x2="1400.20" y2="130.01" stroke="#000" stroke-width="2.5" />
<line x1="1394.80" y1="124.64" x2="1400.20" y2="124.64" stroke="#000" stroke-width="2.5" />
<line x1="1394.80" y1="119.98" x2="1400.20" y2="119.98" stroke="#000" stroke-width="2.5" />
<line x1="1394.80" y1="115.87" x2="1400.20" y2="115.87" stroke="#000" stroke-width="2.5" />
<text x="1364.8" y="208.2" font-size="36.6" text-anchor="end">10</text><text x="1364.6" y="197.1" font-size="24.4">7</text>
<line x1="1394.80" y1="112.20" x2="1402.10" y2="112.20" stroke="#000" stroke-width="2.6" />
<line x1="1394.80" y1="88.03" x2="1400.20" y2="88.03" stroke="#000" stroke-width="2.5" />
<line x1="1394.80" y1="73.89" x2="1400.20" y2="73.89" stroke="#000" stroke-width="2.5" />
<line x1="1394.80" y1="63.85" x2="1400.20" y2="63.85" stroke="#000" stroke-width="2.5" />
<line x1="1394.80" y1="56.07" x2="1400.20" y2="56.07" stroke="#000" stroke-width="2.5" />
<line x1="1394.80" y1="49.71" x2="1400.20" y2="49.71" stroke="#000" stroke-width="2.5" />
<line x1="1394.80" y1="44.34" x2="1400.20" y2="44.34" stroke="#000" stroke-width="2.5" />
<line x1="1394.80" y1="39.68" x2="1400.20" y2="39.68" stroke="#000" stroke-width="2.5" />
<line x1="1394.80" y1="35.57" x2="1400.20" y2="35.57" stroke="#000" stroke-width="2.5" />
<text x="1364.8" y="127.9" font-size="36.6" text-anchor="end">10</text><text x="1364.6" y="116.8" font-size="24.4">8</text>
<line x1="1394.80" y1="31.90" x2="1402.10" y2="31.90" stroke="#000" stroke-width="2.6" />
<text x="1364.8" y="47.6" font-size="36.6" text-anchor="end">10</text><text x="1364.6" y="36.5" font-size="24.4">9</text>
<text transform="translate(1296.5,405.3) rotate(-90)" font-size="37.6" text-anchor="middle">Storage modulus / Pa</text>
<text x="1437.6" y="743.7" font-size="32.4" fill="#000" text-anchor="start" >moist</text>
<text x="1537.6" y="743.7" font-size="32.4" fill="#fff" text-anchor="start" >dry</text>
<text x="1684.3" y="743.7" font-size="32.4" fill="#000" text-anchor="start" >moist</text>
<text x="1781.5" y="743.7" font-size="32.4" fill="#fff" text-anchor="start" >dry</text>
<text x="1435.2" y="806.8" font-size="37.8" fill="#0070C0">PSx(NH<tspan font-size="25" dy="9">2</tspan><tspan dy="-9">)</tspan></text>
<text x="1647.9" y="806.8" font-size="37.8" fill="#FF0000">PSx(NH<tspan font-size="25" dy="9">3</tspan><tspan font-size="25" dy="-22">+</tspan><tspan dy="13">Cl</tspan><tspan font-size="25" dy="-13">−</tspan><tspan dy="13">)</tspan></text>
<text x="1259.0" y="44.3" font-size="43.4" fill="#000" text-anchor="start" >(c)</text>
</g>
<g id="chartd">
<text x="0.2" y="947.3" font-size="43.4" fill="#000" text-anchor="start" >(d)</text>
<polyline fill="none" stroke="#000" stroke-width="3.7" stroke-linejoin="round" points="267.6,1043.8 267.2,1055 268.8,1075.1 270.5,1095 272.6,1113.9 292.6,1078.2 295.1,1076.8 361.5,1076.8 600,1076.6 807,1076.8"/>
<polyline fill="none" stroke="#F1660F" stroke-width="3.8" stroke-linejoin="round" stroke-linecap="round" points="271.3,1026.3 269.1,1037.6 269.8,1052.6 270.1,1065.1 272.3,1075.1 270.7,1087.6 270.3,1106.4 271.9,1125.2 271.3,1137.7 273.2,1152.7 271.9,1165.3 273.8,1177.7 273.2,1190.2 275.3,1205.2 286.3,1183.9 295.1,1167.6 307.6,1149.5 317.6,1140.7 327.7,1126.3 337.7,1108.8 350.2,1092.5 360.2,1080.3 364,1077.2 500,1077.2 807,1077.2"/>
<line x1="166.40" y1="952.00" x2="808.80" y2="952.00" stroke="#000" stroke-width="3.4" />
<line x1="166.40" y1="1266.00" x2="808.80" y2="1266.00" stroke="#000" stroke-width="3.6" />
<line x1="168.00" y1="952.00" x2="168.00" y2="1266.00" stroke="#000" stroke-width="3.3" />
<line x1="807.30" y1="952.00" x2="807.30" y2="1266.00" stroke="#000" stroke-width="3" />
<line x1="168.00" y1="1266.00" x2="181.50" y2="1266.00" stroke="#000" stroke-width="3" />
<text x="151.5" y="1273.8" font-size="36" fill="#000" text-anchor="end" >-15</text>
<line x1="168.00" y1="1253.44" x2="175.90" y2="1253.44" stroke="#000" stroke-width="3" />
<line x1="168.00" y1="1240.88" x2="175.90" y2="1240.88" stroke="#000" stroke-width="3" />
<line x1="168.00" y1="1228.32" x2="175.90" y2="1228.32" stroke="#000" stroke-width="3" />
<line x1="168.00" y1="1215.76" x2="175.90" y2="1215.76" stroke="#000" stroke-width="3" />
<line x1="168.00" y1="1203.20" x2="181.50" y2="1203.20" stroke="#000" stroke-width="3" />
<text x="151.5" y="1211.0" font-size="36" fill="#000" text-anchor="end" >-10</text>
<line x1="168.00" y1="1190.64" x2="175.90" y2="1190.64" stroke="#000" stroke-width="3" />
<line x1="168.00" y1="1178.08" x2="175.90" y2="1178.08" stroke="#000" stroke-width="3" />
<line x1="168.00" y1="1165.52" x2="175.90" y2="1165.52" stroke="#000" stroke-width="3" />
<line x1="168.00" y1="1152.96" x2="175.90" y2="1152.96" stroke="#000" stroke-width="3" />
<line x1="168.00" y1="1140.40" x2="181.50" y2="1140.40" stroke="#000" stroke-width="3" />
<text x="151.5" y="1148.2" font-size="36" fill="#000" text-anchor="end" >-5</text>
<line x1="168.00" y1="1127.84" x2="175.90" y2="1127.84" stroke="#000" stroke-width="3" />
<line x1="168.00" y1="1115.28" x2="175.90" y2="1115.28" stroke="#000" stroke-width="3" />
<line x1="168.00" y1="1102.72" x2="175.90" y2="1102.72" stroke="#000" stroke-width="3" />
<line x1="168.00" y1="1090.16" x2="175.90" y2="1090.16" stroke="#000" stroke-width="3" />
<line x1="168.00" y1="1077.60" x2="181.50" y2="1077.60" stroke="#000" stroke-width="3" />
<text x="151.5" y="1085.4" font-size="36" fill="#000" text-anchor="end" >0</text>
<line x1="168.00" y1="1065.04" x2="175.90" y2="1065.04" stroke="#000" stroke-width="3" />
<line x1="168.00" y1="1052.48" x2="175.90" y2="1052.48" stroke="#000" stroke-width="3" />
<line x1="168.00" y1="1039.92" x2="175.90" y2="1039.92" stroke="#000" stroke-width="3" />
<line x1="168.00" y1="1027.36" x2="175.90" y2="1027.36" stroke="#000" stroke-width="3" />
<line x1="168.00" y1="1014.80" x2="181.50" y2="1014.80" stroke="#000" stroke-width="3" />
<text x="151.5" y="1022.6" font-size="36" fill="#000" text-anchor="end" >5</text>
<line x1="168.00" y1="1002.24" x2="175.90" y2="1002.24" stroke="#000" stroke-width="3" />
<line x1="168.00" y1="989.68" x2="175.90" y2="989.68" stroke="#000" stroke-width="3" />
<line x1="168.00" y1="977.12" x2="175.90" y2="977.12" stroke="#000" stroke-width="3" />
<line x1="168.00" y1="964.56" x2="175.90" y2="964.56" stroke="#000" stroke-width="3" />
<line x1="168.00" y1="952.00" x2="181.50" y2="952.00" stroke="#000" stroke-width="3" />
<text x="151.5" y="959.8" font-size="36" fill="#000" text-anchor="end" >10</text>
<line x1="168.00" y1="1266.00" x2="168.00" y2="1252.60" stroke="#000" stroke-width="3" />
<text x="167.4" y="1306.7" font-size="36" fill="#000" text-anchor="middle" >-20</text>
<line x1="194.64" y1="1266.00" x2="194.64" y2="1258.50" stroke="#000" stroke-width="3" />
<line x1="221.28" y1="1266.00" x2="221.28" y2="1258.50" stroke="#000" stroke-width="3" />
<line x1="247.91" y1="1266.00" x2="247.91" y2="1258.50" stroke="#000" stroke-width="3" />
<line x1="274.55" y1="1266.00" x2="274.55" y2="1252.60" stroke="#000" stroke-width="3" />
<text x="273.9" y="1306.7" font-size="36" fill="#000" text-anchor="middle" >0</text>
<line x1="301.19" y1="1266.00" x2="301.19" y2="1258.50" stroke="#000" stroke-width="3" />
<line x1="327.82" y1="1266.00" x2="327.82" y2="1258.50" stroke="#000" stroke-width="3" />
<line x1="354.46" y1="1266.00" x2="354.46" y2="1258.50" stroke="#000" stroke-width="3" />
<line x1="381.10" y1="1266.00" x2="381.10" y2="1252.60" stroke="#000" stroke-width="3" />
<text x="380.5" y="1306.7" font-size="36" fill="#000" text-anchor="middle" >20</text>
<line x1="407.74" y1="1266.00" x2="407.74" y2="1258.50" stroke="#000" stroke-width="3" />
<line x1="434.37" y1="1266.00" x2="434.37" y2="1258.50" stroke="#000" stroke-width="3" />
<line x1="461.01" y1="1266.00" x2="461.01" y2="1258.50" stroke="#000" stroke-width="3" />
<line x1="487.65" y1="1266.00" x2="487.65" y2="1252.60" stroke="#000" stroke-width="3" />
<text x="487.0" y="1306.7" font-size="36" fill="#000" text-anchor="middle" >40</text>
<line x1="514.29" y1="1266.00" x2="514.29" y2="1258.50" stroke="#000" stroke-width="3" />
<line x1="540.92" y1="1266.00" x2="540.92" y2="1258.50" stroke="#000" stroke-width="3" />
<line x1="567.56" y1="1266.00" x2="567.56" y2="1258.50" stroke="#000" stroke-width="3" />
<line x1="594.20" y1="1266.00" x2="594.20" y2="1252.60" stroke="#000" stroke-width="3" />
<text x="593.6" y="1306.7" font-size="36" fill="#000" text-anchor="middle" >60</text>
<line x1="620.84" y1="1266.00" x2="620.84" y2="1258.50" stroke="#000" stroke-width="3" />
<line x1="647.47" y1="1266.00" x2="647.47" y2="1258.50" stroke="#000" stroke-width="3" />
<line x1="674.11" y1="1266.00" x2="674.11" y2="1258.50" stroke="#000" stroke-width="3" />
<line x1="700.75" y1="1266.00" x2="700.75" y2="1252.60" stroke="#000" stroke-width="3" />
<text x="700.1" y="1306.7" font-size="36" fill="#000" text-anchor="middle" >80</text>
<line x1="727.39" y1="1266.00" x2="727.39" y2="1258.50" stroke="#000" stroke-width="3" />
<line x1="754.02" y1="1266.00" x2="754.02" y2="1258.50" stroke="#000" stroke-width="3" />
<line x1="780.66" y1="1266.00" x2="780.66" y2="1258.50" stroke="#000" stroke-width="3" />
<line x1="807.30" y1="1266.00" x2="807.30" y2="1252.60" stroke="#000" stroke-width="3" />
<text x="808.1" y="1306.7" font-size="36" fill="#000" text-anchor="middle" >100</text>
<text transform="translate(85.1,1109) rotate(-90)" font-size="36.6" text-anchor="middle">Force / nN</text>
<text x="487.5" y="1349.2" font-size="36.65" fill="#000" text-anchor="middle" >Indentation depth / nm</text>
<line x1="1350.7" y1="1266.2" x2="1836.9" y2="1266.2" stroke="#E81818" stroke-width="2"/>
<g fill="#FF4040" stroke="#EA1616" stroke-width="2.6"><rect x="970.2" y="1175.1" width="21.1" height="93.1"/><rect x="991.3" y="1175.1" width="21.1" height="93.1"/><rect x="1012.5" y="1082.1" width="21.1" height="186.1"/><rect x="1033.6" y="1051.1" width="21.1" height="217.1"/><rect x="1054.8" y="1144.1" width="21.1" height="124.1"/><rect x="1075.9" y="1051.1" width="21.1" height="217.1"/><rect x="1097.0" y="958.0" width="21.1" height="310.2"/><rect x="1118.2" y="1051.1" width="21.1" height="217.1"/><rect x="1139.3" y="1144.1" width="21.1" height="124.1"/><rect x="1160.5" y="1020.0" width="21.1" height="248.2"/><rect x="1181.6" y="1082.1" width="21.1" height="186.1"/><rect x="1202.7" y="1082.1" width="21.1" height="186.1"/><rect x="1223.9" y="1175.1" width="21.1" height="93.1"/><rect x="1245.0" y="1113.1" width="21.1" height="155.1"/><rect x="1266.2" y="1051.1" width="21.1" height="217.1"/><rect x="1287.3" y="1175.1" width="21.1" height="93.1"/><rect x="1308.4" y="1206.2" width="21.1" height="62.0"/><rect x="1329.6" y="1175.1" width="21.1" height="93.1"/><rect x="1414.1" y="1206.2" width="21.1" height="62.0"/><rect x="1456.4" y="1237.2" width="21.1" height="31.0"/><rect x="1498.7" y="1237.2" width="21.1" height="31.0"/><rect x="1562.1" y="1237.2" width="21.1" height="31.0"/><rect x="1815.8" y="1237.2" width="21.1" height="31.0"/></g>
<polyline fill="none" stroke="#741A1C" stroke-width="3" points="979.5,1156.4 987.7,1147.9 995.8,1139.4 1004.0,1130.7 1012.1,1122.1 1020.3,1113.6 1028.5,1105.2 1036.6,1097.1 1044.8,1089.3 1052.9,1081.9 1061.1,1075.0 1069.3,1068.6 1077.4,1062.9 1085.6,1057.9 1093.7,1053.6 1101.9,1050.2 1110.1,1047.5 1118.2,1045.8 1126.4,1044.9 1134.5,1045.0 1142.7,1046.0 1150.9,1047.8 1159.0,1050.6 1167.2,1054.1 1175.3,1058.5 1183.5,1063.6 1191.7,1069.4 1199.8,1075.9 1208.0,1082.8 1216.1,1090.3 1224.3,1098.1 1232.5,1106.3 1240.6,1114.7 1248.8,1123.2 1256.9,1131.9 1265.1,1140.5 1273.3,1149.1 1281.4,1157.5 1289.6,1165.8 1297.7,1173.8 1305.9,1181.6 1314.1,1189.1 1322.2,1196.2 1330.4,1202.9 1338.5,1209.2 1346.7,1215.2 1354.9,1220.7 1363.0,1225.8 1371.2,1230.6 1379.3,1234.9 1387.5,1238.9 1395.7,1242.5 1403.8,1245.7 1412.0,1248.6 1420.1,1251.2 1428.3,1253.5 1436.5,1255.6 1444.6,1257.4 1452.8,1259.0 1460.9,1260.4 1469.1,1261.6 1477.3,1262.6 1485.4,1263.5 1493.6,1264.3 1501.7,1264.9 1509.9,1265.5 1518.1,1266.0 1526.2,1266.4 1534.4,1266.7 1542.5,1267.0"/>
<line x1="936.20" y1="958.00" x2="1838.40" y2="958.00" stroke="#000" stroke-width="3.4" />
<line x1="936.20" y1="1268.20" x2="1838.40" y2="1268.20" stroke="#000" stroke-width="3.3" />
<line x1="937.70" y1="958.00" x2="937.70" y2="1268.20" stroke="#000" stroke-width="3" />
<line x1="1836.90" y1="958.00" x2="1836.90" y2="1268.20" stroke="#000" stroke-width="3" />
<text x="924.4" y="1280.8" font-size="36.7" fill="#000" text-anchor="end" >0</text>
<line x1="937.70" y1="1206.16" x2="955.20" y2="1206.16" stroke="#000" stroke-width="3" />
<text x="924.4" y="1218.8" font-size="36.7" fill="#000" text-anchor="end" >2</text>
<line x1="937.70" y1="1144.12" x2="955.20" y2="1144.12" stroke="#000" stroke-width="3" />
<text x="924.4" y="1156.7" font-size="36.7" fill="#000" text-anchor="end" >4</text>
<line x1="937.70" y1="1082.08" x2="955.20" y2="1082.08" stroke="#000" stroke-width="3" />
<text x="924.4" y="1094.7" font-size="36.7" fill="#000" text-anchor="end" >6</text>
<line x1="937.70" y1="1020.04" x2="955.20" y2="1020.04" stroke="#000" stroke-width="3" />
<text x="924.4" y="1032.6" font-size="36.7" fill="#000" text-anchor="end" >8</text>
<text x="924.4" y="970.6" font-size="36.7" fill="#000" text-anchor="end" >10</text>
<line x1="1045.60" y1="1268.20" x2="1045.60" y2="1248.80" stroke="#000" stroke-width="3" />
<text x="1045.8" y="1308.7" font-size="37.3" fill="#000" text-anchor="middle" >1.5</text>
<line x1="1180.50" y1="1268.20" x2="1180.50" y2="1248.80" stroke="#000" stroke-width="3" />
<text x="1180.7" y="1308.7" font-size="37.3" fill="#000" text-anchor="middle" >2.0</text>
<line x1="1317.20" y1="1268.20" x2="1317.20" y2="1248.80" stroke="#000" stroke-width="3" />
<text x="1317.4" y="1308.7" font-size="37.3" fill="#000" text-anchor="middle" >2.5</text>
<line x1="1453.90" y1="1268.20" x2="1453.90" y2="1248.80" stroke="#000" stroke-width="3" />
<text x="1454.1" y="1308.7" font-size="37.3" fill="#000" text-anchor="middle" >3.0</text>
<line x1="1589.90" y1="1268.20" x2="1589.90" y2="1248.80" stroke="#000" stroke-width="3" />
<text x="1590.1" y="1308.7" font-size="37.3" fill="#000" text-anchor="middle" >3.5</text>
<line x1="1725.80" y1="1268.20" x2="1725.80" y2="1248.80" stroke="#000" stroke-width="3" />
<text x="1726.0" y="1308.7" font-size="37.3" fill="#000" text-anchor="middle" >4.0</text>
<text transform="translate(881,1118.5) rotate(-90)" font-size="38" text-anchor="middle">Count</text>
<text x="1383.8" y="1354.0" font-size="37.7" fill="#000" text-anchor="middle" >Elastic modulus / GPa</text>
</g>
</svg>
</body></html>
